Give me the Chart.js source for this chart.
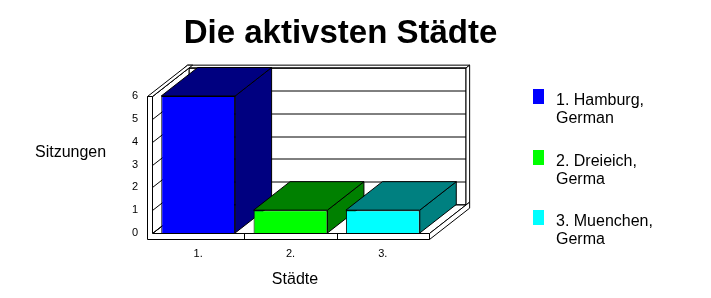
<!DOCTYPE html>
<html>
<head>
<meta charset="utf-8">
<script src="https://cdn.jsdelivr.net/npm/chart.js@4.4.0/dist/chart.umd.min.js"></script>
<style>
  body { margin: 0; background: #fff; }
  canvas { display: block; }
</style>
</head>
<body>
<canvas id="cityChart" width="711" height="298"></canvas>
<script>
// Daten
const categories = ['1.', '2.', '3.'];
const sessions = [6, 1, 1];
const legendNames = [['1. Hamburg,', 'German'], ['2. Dreieich,', 'Germa'], ['3. Muenchen,', 'Germa']];
const yTicks = [0, 1, 2, 3, 4, 5, 6];
const frontColors = ['#0000ff', '#00ff00', '#00ffff'];
const sideColors = ['#000080', '#008000', '#008080'];

// Tiefe fuer den 3D-Effekt
const DX = 36.5, DY = -28.5;
const WALL = 5, FLOOR = 6, BACK = 1.1;
const FONT = '"Liberation Sans", Arial, sans-serif';

function pt(x, y, z) {
  return [x + z * DX, y + z * DY];
}

function face(ctx, pts, fill) {
  ctx.beginPath();
  ctx.moveTo(pts[0][0], pts[0][1]);
  for (let i = 1; i < pts.length; i++) ctx.lineTo(pts[i][0], pts[i][1]);
  ctx.closePath();
  ctx.fillStyle = fill;
  ctx.fill();
  ctx.stroke();
}

function line(ctx, p, q) {
  ctx.beginPath();
  ctx.moveTo(p[0], p[1]);
  ctx.lineTo(q[0], q[1]);
  ctx.stroke();
}

const box3d = {
  id: 'box3d',
  beforeDatasetsDraw(chart) {
    const ctx = chart.ctx;
    const a = chart.chartArea;
    const ys = chart.scales.y, xs = chart.scales.x;
    const L = a.left + 0.5, R = a.right + 0.5, T = a.top + 0.5, B = a.bottom + 0.5;

    ctx.save();
    ctx.lineWidth = 1;
    ctx.strokeStyle = '#000';

    // Rueckwand
    face(ctx, [pt(L, T, 1), pt(R, T, 1), pt(R, B, 1), pt(L, B, 1)], '#fff');
    face(ctx, [pt(L - WALL, T, 1), pt(R, T, 1), pt(R, T, BACK), pt(L - WALL, T, BACK)], '#fff');
    face(ctx, [pt(R, T, 1), pt(R, T, BACK), pt(R, B, BACK), pt(R, B, 1)], '#fff');
    yTicks.forEach(v => {
      const yy = Math.round(ys.getPixelForValue(v)) + 0.5;
      line(ctx, pt(L, yy, 1), pt(R, yy, 1));
    });

    // Boden
    face(ctx, [pt(L, B, 0), pt(R, B, 0), pt(R, B, 1), pt(L, B, 1)], '#fff');
    face(ctx, [pt(R, B, 0), pt(R, B, BACK), pt(R, B + FLOOR, BACK), pt(R, B + FLOOR, 0)], '#fff');

    // linke Wand
    face(ctx, [pt(L, T, 0), pt(L, T, 1), pt(L, B, 1), pt(L, B, 0)], '#fff');
    yTicks.forEach(v => {
      const yy = Math.round(ys.getPixelForValue(v)) + 0.5;
      line(ctx, pt(L, yy, 0), pt(L, yy, 1));
    });
    face(ctx, [pt(L - WALL, T, 0), pt(L, T, 0), pt(L, T, BACK), pt(L - WALL, T, BACK)], '#fff');
    face(ctx, [[L - WALL, T], [L, T], [L, B], [R, B], [R, B + FLOOR], [L - WALL, B + FLOOR]], '#fff');

    // Trennstriche zwischen Kategorien
    for (let i = 1; i < categories.length; i++) {
      const xx = Math.round((xs.getPixelForTick(i - 1) + xs.getPixelForTick(i)) / 2) + 0.5;
      line(ctx, [xx, B], [xx, B + FLOOR]);
    }

    // Seiten und Deckel der Saeulen
    const meta = chart.getDatasetMeta(0);
    meta.data.forEach((el, i) => {
      const x0 = el.x - el.width / 2, x1 = el.x + el.width / 2;
      const yt = el.y, yb = el.base;
      face(ctx, [pt(x1, yt, 0), pt(x1, yt, 1), pt(x1, yb, 1), pt(x1, yb, 0)], sideColors[i]);
      face(ctx, [pt(x0, yt, 0), pt(x1, yt, 0), pt(x1, yt, 1), pt(x0, yt, 1)], sideColors[i]);
    });
    ctx.restore();
  },
  afterDraw(chart) {
    const ctx = chart.ctx;
    ctx.save();
    ctx.fillStyle = '#000';
    ctx.textBaseline = 'alphabetic';

    ctx.font = 'bold 33px ' + FONT;
    ctx.textAlign = 'center';
    ctx.fillText('Die aktivsten Städte', 340.5, 43);

    ctx.font = '16px ' + FONT;
    ctx.fillText('Städte', 295, 284);
    ctx.textAlign = 'left';
    ctx.fillText('Sitzungen', 35, 157);

    // Legende
    legendNames.forEach((lines, i) => {
      const top = 89 + i * 60.5;
      ctx.fillStyle = frontColors[i];
      ctx.fillRect(533, Math.round(top), 11, 15);
      ctx.fillStyle = '#000';
      lines.forEach((t, j) => ctx.fillText(t, 556, Math.round(top) + 16 + j * 18));
    });
    ctx.restore();
  }
};

const cityChart = new Chart(document.getElementById('cityChart'), {
  type: 'bar',
  data: {
    labels: categories,
    datasets: [{
      data: sessions,
      backgroundColor: frontColors,
      borderColor: '#000',
      borderWidth: 1,
      categoryPercentage: 0.8,
      barPercentage: 1
    }]
  },
  options: {
    responsive: false,
    animation: false,
    layout: { padding: { left: 112, right: 282, top: 96, bottom: 25 } },
    plugins: {
      legend: { display: false },
      title: { display: false },
      tooltip: { enabled: false }
    },
    scales: {
      x: {
        grid: { display: false },
        border: { display: false },
        ticks: { color: '#000', padding: 6, font: { family: FONT, size: 11 } },
        afterFit: s => { s.height = 40; }
      },
      y: {
        min: 0,
        max: 6,
        grid: { display: false },
        border: { display: false },
        ticks: { stepSize: 1, color: '#000', padding: 6, font: { family: FONT, size: 11 } },
        afterFit: s => { s.width = 40; }
      }
    }
  },
  plugins: [box3d]
});
</script>
</body>
</html>
